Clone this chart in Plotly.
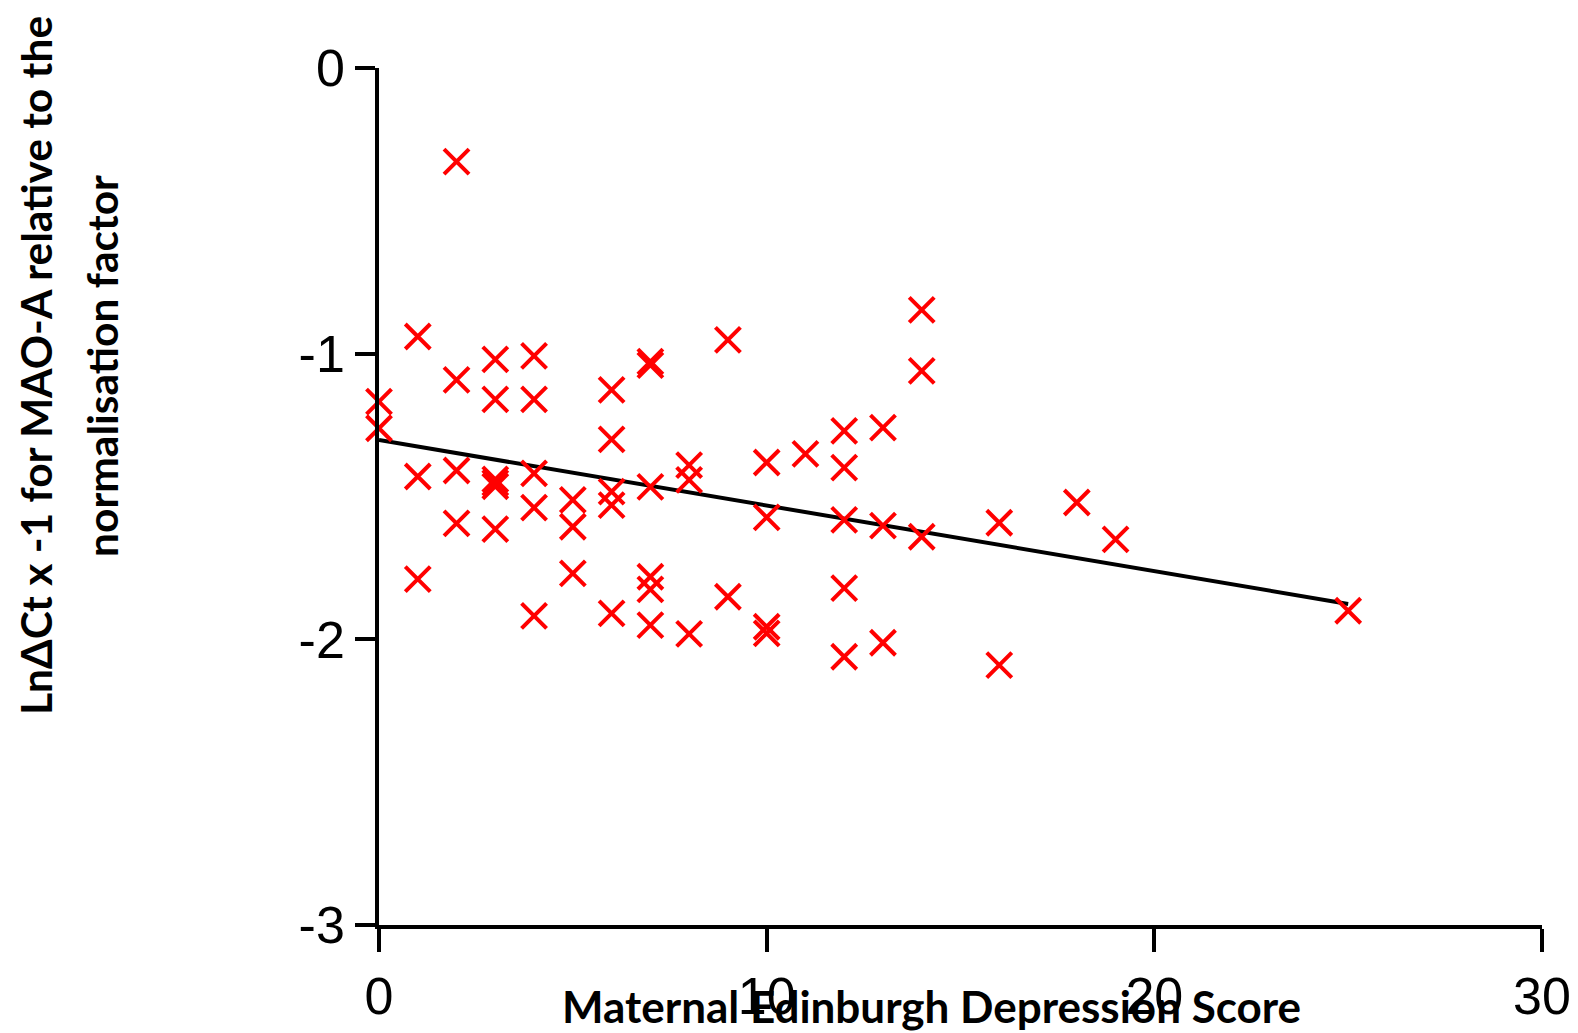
import plotly.graph_objects as go

# Maternal Edinburgh Depression Score (x) and LnΔCt x -1 values (y)
score = [0, 0,
         1, 1, 1,
         2, 2, 2, 2,
         3, 3, 3, 3, 3, 3,
         4, 4, 4, 4, 4,
         5, 5, 5,
         6, 6, 6, 6, 6,
         7, 7, 7, 7, 7, 7,
         8, 8, 8,
         9, 9,
         10, 10, 10, 10,
         11,
         12, 12, 12, 12, 12,
         13, 13, 13,
         14, 14, 14,
         16, 16,
         18,
         19,
         25]
mao_a = [-1.168, -1.261,
         -0.940, -1.430, -1.789,
         -0.328, -1.092, -1.409, -1.594,
         -1.020, -1.160, -1.440, -1.452, -1.464, -1.614,
         -1.008, -1.160, -1.419, -1.539, -1.918,
         -1.512, -1.606, -1.769,
         -1.127, -1.300, -1.483, -1.530, -1.909,
         -1.028, -1.040, -1.466, -1.781, -1.825, -1.950,
         -1.390, -1.442, -1.981,
         -0.952, -1.851,
         -1.381, -1.573, -1.956, -1.979,
         -1.351,
         -1.270, -1.399, -1.582, -1.821, -2.061,
         -1.259, -1.602, -2.012,
         -0.847, -1.060, -1.641,
         -1.592, -2.090,
         -1.521,
         -1.650,
         -1.900]

# Regression line end points
fit_x = [0, 25]
fit_y = [-1.302, -1.876]

x_ticks = [0, 10, 20, 30]
y_ticks = [0, -1, -2, -3]

x_title = "Maternal Edinburgh Depression Score"
y_title_1 = "LnΔCt x -1 for MAO-A relative to the"
y_title_2 = "normalisation factor"

fig = go.Figure()
fig.add_trace(go.Scatter(
    x=fit_x, y=fit_y, mode="lines",
    line=dict(color="black", width=4),
    showlegend=False, hoverinfo="skip", cliponaxis=False))
fig.add_trace(go.Scatter(
    x=score, y=mao_a, mode="markers",
    marker=dict(symbol="x-thin-open", size=25, color="#ff0000",
                line=dict(color="#ff0000", width=4)),
    showlegend=False, cliponaxis=False))

axis_font = dict(family="Liberation Sans, Arial, sans-serif", size=52, color="black")
xtitle_font = dict(family="Lato, sans-serif", size=44, color="black")
ytitle_font = dict(family="Lato, sans-serif", size=42.5, color="black")

PL, PB, PW, PH = 379, 925, 1163, 857  # on-screen plot box (left, bottom, width, height)

fig.update_layout(
    width=1578, height=1033,
    paper_bgcolor="white", plot_bgcolor="white",
    margin=dict(l=371, r=44, t=60, b=116, autoexpand=False),
    xaxis=dict(range=[0, 30], tickvals=x_ticks, ticktext=[str(v) for v in x_ticks],
               showline=True, linecolor="black", linewidth=3.5,
               ticks="outside", ticklen=23, tickwidth=3.5, tickcolor="black",
               showgrid=False, zeroline=False, tickfont=axis_font),
    yaxis=dict(range=[-3, 0], tickvals=y_ticks, ticktext=[str(v) for v in y_ticks],
               showline=True, linecolor="black", linewidth=3.5,
               ticks="outside", ticklen=20, tickwidth=3.5, tickcolor="black",
               showgrid=False, zeroline=False, tickfont=axis_font),
    annotations=[
        dict(text="<b>" + x_title + "</b>", xref="paper", yref="paper",
             x=(931 - PL) / PW, y=-(1006 - PB) / PH,
             xanchor="center", yanchor="middle", showarrow=False,
             font=xtitle_font),
        dict(text="<b>" + y_title_1 + "</b>", xref="paper", yref="paper",
             x=(35 - PL) / PW, y=(PB - 366) / PH, textangle=-90,
             xanchor="center", yanchor="middle", showarrow=False,
             font=ytitle_font),
        dict(text="<b>" + y_title_2 + "</b>", xref="paper", yref="paper",
             x=(101 - PL) / PW, y=(PB - 366) / PH, textangle=-90,
             xanchor="center", yanchor="middle", showarrow=False,
             font=ytitle_font),
    ],
)

fig.write_html("out.html")
